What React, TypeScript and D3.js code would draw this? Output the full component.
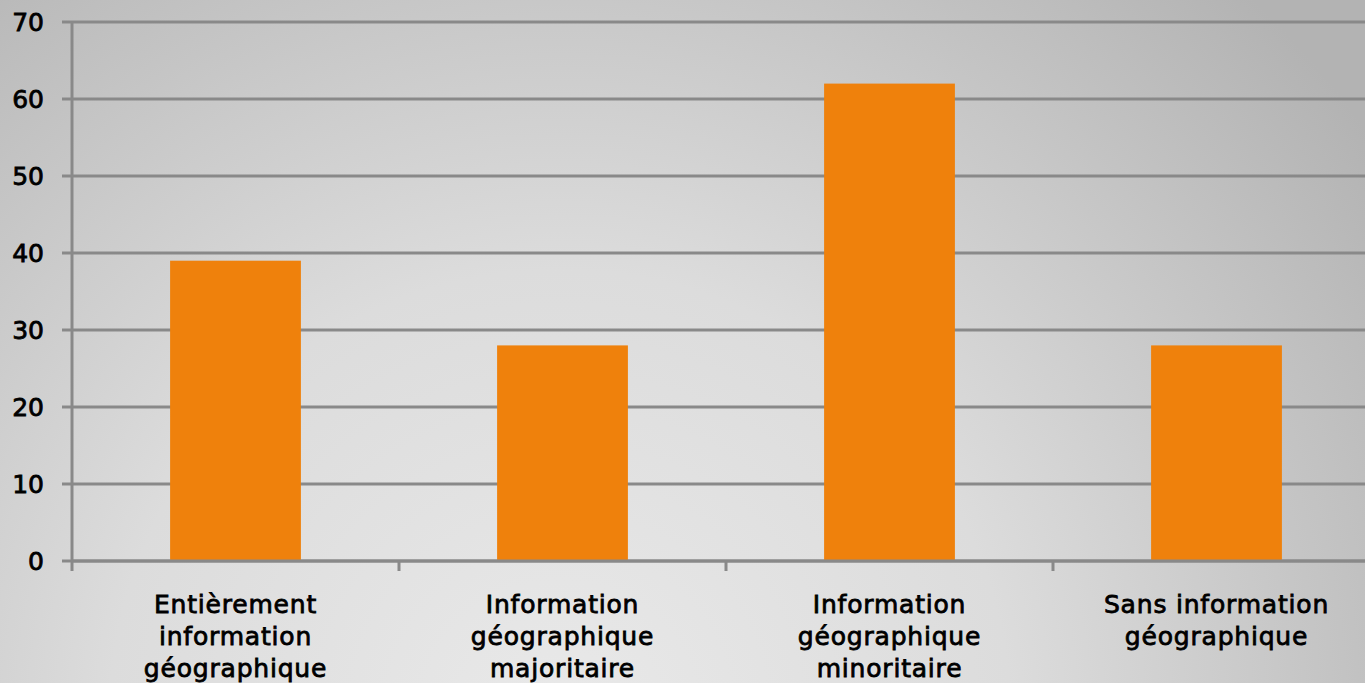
import { useEffect, useRef } from 'react'
import * as d3 from 'd3'

const categories = [
  ['Entièrement', 'information', 'géographique'],
  ['Information', 'géographique', 'majoritaire'],
  ['Information', 'géographique', 'minoritaire'],
  ['Sans information', 'géographique'],
]
const values = [39, 28, 62, 28]
const yTicks = [0, 10, 20, 30, 40, 50, 60, 70]

export default function App() {
  const svgRef = useRef<SVGSVGElement>(null)
  const width = 1365
  const height = 683

  useEffect(() => {
    if (!svgRef.current) return
    const svg = d3.select(svgRef.current)
    svg.selectAll('*').remove()

    // background gradient
    const defs = svg.append('defs')
    const grad = defs.append('radialGradient')
      .attr('id', 'bg')
      .attr('gradientUnits', 'userSpaceOnUse')
      .attr('cx', 560).attr('cy', 720).attr('r', 1000)
    grad.append('stop').attr('offset', '0%').attr('stop-color', '#e9e9e9')
    grad.append('stop').attr('offset', '45%').attr('stop-color', '#dcdcdc')
    grad.append('stop').attr('offset', '100%').attr('stop-color', '#b3b3b3')
    svg.append('rect').attr('width', width).attr('height', height).attr('fill', 'url(#bg)')

    const left = 72
    const x = d3.scaleBand<number>()
      .domain(d3.range(values.length))
      .range([left, left + 327 * 4])
      .paddingInner(0.6)
      .paddingOuter(0.3)
    const y = d3.scaleLinear().domain([0, 70]).range([561, 22])

    const font = '"DejaVu Sans", Verdana, sans-serif'

    // gridlines
    svg.append('g').selectAll('line')
      .data(yTicks)
      .enter().append('line')
      .attr('x1', left - 10).attr('x2', width)
      .attr('y1', d => y(d)).attr('y2', d => y(d))
      .attr('stroke', '#898989').attr('stroke-width', 3)

    // y labels
    svg.append('g').selectAll('text')
      .data(yTicks)
      .enter().append('text')
      .attr('x', 44).attr('y', d => y(d) + 9)
      .attr('text-anchor', 'end')
      .style('font-family', font).style('font-size', '25px')
      .style('fill', '#000').style('stroke', '#000').style('stroke-width', 0.8)
      .text(d => d)

    // bars
    svg.append('g').selectAll('rect')
      .data(values)
      .enter().append('rect')
      .attr('x', (_, i) => x(i)!)
      .attr('width', x.bandwidth())
      .attr('y', d => y(d))
      .attr('height', d => y(0) - y(d))
      .attr('fill', '#ef810c')

    // axes lines
    svg.append('line')
      .attr('x1', left).attr('x2', left).attr('y1', y(70)).attr('y2', 571)
      .attr('stroke', '#898989').attr('stroke-width', 3)
    svg.append('line')
      .attr('x1', left).attr('x2', width).attr('y1', y(0)).attr('y2', y(0))
      .attr('stroke', '#898989').attr('stroke-width', 3)
    svg.append('g').selectAll('line')
      .data(d3.range(1, values.length))
      .enter().append('line')
      .attr('x1', i => left + i * 327).attr('x2', i => left + i * 327)
      .attr('y1', y(0)).attr('y2', 571)
      .attr('stroke', '#898989').attr('stroke-width', 3)

    // category labels
    const labels = svg.append('g').selectAll('text')
      .data(categories)
      .enter().append('text')
      .attr('text-anchor', 'middle')
      .style('font-family', font).style('font-size', '25px').style('letter-spacing', '0.8px')
      .style('fill', '#000').style('stroke', '#000').style('stroke-width', 0.8)
    labels.each(function (lines, i) {
      const t = d3.select(this)
      lines.forEach((ln, j) => {
        t.append('tspan')
          .attr('x', x(i)! + x.bandwidth() / 2)
          .attr('y', 613 + j * 32)
          .text(ln)
      })
    })
  }, [])

  return (
    <svg
      ref={svgRef}
      width={width}
      height={height}
      style={{ position: 'absolute', left: 0, top: 0, display: 'block' }}
    />
  )
}
